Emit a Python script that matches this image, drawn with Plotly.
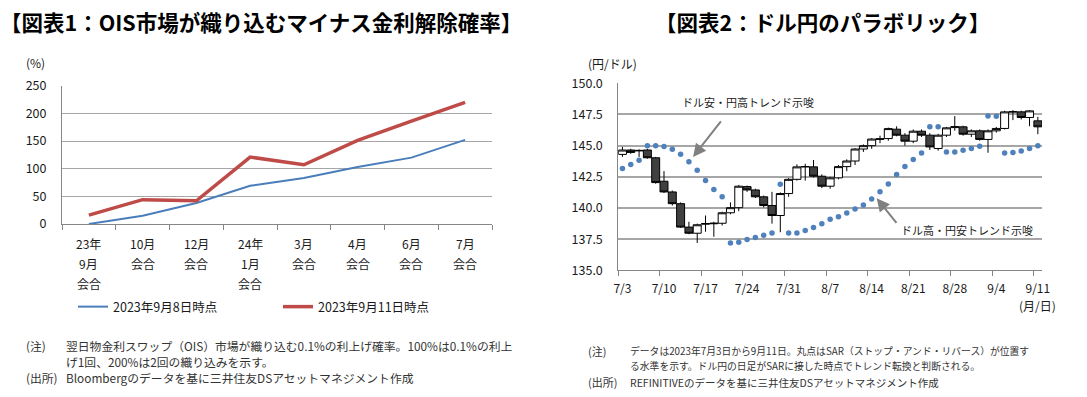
import plotly.graph_objects as go

W, H = 1087, 397
FONT = "Noto Sans CJK JP"

# ---------------- Left chart data ----------------
meeting_labels = [["23年", "9月", "会合"], ["10月", "会合"], ["12月", "会合"],
                  ["24年", "1月", "会合"], ["3月", "会合"], ["4月", "会合"],
                  ["6月", "会合"], ["7月", "会合"]]
prob_0908 = [0, 15, 38, 69, 83, 103, 120, 152]
prob_0911 = [16, 44, 42, 121, 107, 151, 186, 220]
left_yticks = [0, 50, 100, 150, 200, 250]

# ---------------- Right chart data ----------------
dates = ["7/3", "7/4", "7/5", "7/6", "7/7",
         "7/10", "7/11", "7/12", "7/13", "7/14",
         "7/17", "7/18", "7/19", "7/20", "7/21",
         "7/24", "7/25", "7/26", "7/27", "7/28",
         "7/31", "8/1", "8/2", "8/3", "8/4",
         "8/7", "8/8", "8/9", "8/10", "8/11",
         "8/14", "8/15", "8/16", "8/17", "8/18",
         "8/21", "8/22", "8/23", "8/24", "8/25",
         "8/28", "8/29", "8/30", "8/31", "9/1",
         "9/4", "9/5", "9/6", "9/7", "9/8",
         "9/11"]
open_ = [144.30, 144.65, 144.58, 144.65, 144.03,
         142.15, 141.29, 140.35, 138.47, 137.98,
         138.70, 138.74, 138.78, 139.62, 140.03,
         141.72, 141.45, 140.90, 140.20, 139.40,
         141.16, 142.30, 143.30, 143.30, 142.55,
         141.75, 142.42, 143.32, 143.77, 144.73,
         145.00, 145.50, 145.57, 146.32, 145.84,
         145.36, 146.16, 145.84, 144.77, 145.84,
         146.45, 146.51, 145.92, 146.19, 145.50,
         146.19, 146.38, 147.70, 147.71, 147.26,
         146.99]
high = [144.90, 144.75, 144.70, 144.75, 144.10,
        142.96, 141.40, 140.45, 138.90, 138.75,
        139.40, 138.90, 139.70, 140.45, 141.85,
        141.80, 141.55, 141.00, 141.30, 141.25,
        142.40, 143.50, 143.55, 143.85, 142.70,
        142.50, 143.45, 143.90, 144.80, 145.10,
        145.60, 145.80, 146.45, 146.55, 146.00,
        146.30, 146.30, 146.00, 145.95, 146.50,
        147.37, 146.60, 146.30, 146.30, 146.30,
        146.50, 147.80, 147.85, 147.80, 147.85,
        147.31]
low = [144.10, 144.35, 144.10, 143.95, 141.95,
       141.20, 140.20, 138.40, 137.90, 137.20,
       138.10, 137.70, 138.60, 139.50, 139.75,
       141.30, 140.80, 140.05, 138.75, 138.06,
       140.90, 142.20, 142.20, 142.45, 141.60,
       141.55, 142.30, 142.95, 143.45, 144.50,
       144.75, 145.20, 145.40, 145.75, 145.00,
       145.20, 145.70, 144.65, 144.60, 145.70,
       146.20, 145.80, 145.70, 145.40, 144.43,
       146.05, 146.30, 147.05, 147.10, 146.56,
       145.92]
close = [144.65, 144.46, 144.62, 144.03, 142.04,
         141.29, 140.35, 138.47, 137.98, 138.66,
         138.76, 138.78, 139.62, 140.03, 141.75,
         141.45, 140.90, 140.20, 139.40, 141.16,
         142.30, 143.30, 143.32, 142.55, 141.75,
         142.42, 143.32, 143.77, 144.73, 145.00,
         145.53, 145.55, 146.37, 145.84, 145.36,
         146.16, 145.84, 144.90, 145.84, 146.43,
         146.52, 145.92, 146.19, 145.50, 146.19,
         146.38, 147.71, 147.72, 147.26, 147.79,
         146.51]
sar = [143.16, 143.49, 143.83, 144.99, 144.99,
       144.93, 144.72, 144.32, 143.71, 143.03,
       142.20, 141.48, 140.90, 137.20, 137.25,
       137.47, 137.63, 137.81, 138.00, 141.90,
       138.00, 138.00, 138.20, 138.43, 138.75,
       139.10, 139.30, 139.60, 139.92, 140.25,
       140.72, 141.30, 141.92, 142.69, 143.33,
       143.90, 144.42, 146.52, 146.52, 144.49,
       144.49, 144.64, 144.77, 144.96, 147.37,
       147.35, 144.42, 144.45, 144.57, 144.77,
       144.99]
right_yticks = [135.0, 137.5, 140.0, 142.5, 145.0, 147.5, 150.0]
label_step = 5

# ---------------- helpers ----------------
def px_x(x):
    return x / W

def px_y(y):
    return 1 - y / H

BLUE = "#4A7EBB"
RED = "#BE4B48"
GRID = "#A6A6A6"
AXIS = "#868686"
TXT = "#1a1a1a"

fig = go.Figure()

xl = list(range(len(meeting_labels)))
fig.add_trace(go.Scatter(x=xl, y=prob_0908, mode="lines", name="2023年9月8日時点",
                         line=dict(color=BLUE, width=2), xaxis="x", yaxis="y",
                         legend="legend", hoverinfo="skip"))
fig.add_trace(go.Scatter(x=xl, y=prob_0911, mode="lines", name="2023年9月11日時点",
                         line=dict(color=RED, width=3.5), xaxis="x", yaxis="y",
                         legend="legend2", hoverinfo="skip"))

xr = list(range(len(dates)))
fig.add_trace(go.Candlestick(x=xr, open=open_, high=high, low=low, close=close,
                             xaxis="x2", yaxis="y2", showlegend=False,
                             increasing=dict(fillcolor="white", line=dict(color="black", width=1)),
                             decreasing=dict(fillcolor="#404040", line=dict(color="black", width=1)),
                             whiskerwidth=0, hoverinfo="skip"))
fig.add_trace(go.Scatter(x=xr, y=sar, mode="markers", showlegend=False,
                         marker=dict(color="#4F81BD", size=5.5), xaxis="x2", yaxis="y2",
                         hoverinfo="skip"))

annotations = []
# Left x labels (multi-line, 20px line spacing)
for i, lines in enumerate(meeting_labels):
    for j, t in enumerate(lines):
        annotations.append(dict(x=i, y=0, xref="x", yref="y", text=t, showarrow=False,
                                yshift=-(19 + 20 * j), xanchor="center", yanchor="middle",
                                font=dict(size=12, color=TXT, family=FONT)))

# Titles
annotations.append(dict(x=px_x(-2), y=px_y(22), xref="paper", yref="paper",
                        text="<b>【図表1：OIS市場が織り込むマイナス金利解除確率】</b>",
                        showarrow=False, xanchor="left", yanchor="middle",
                        font=dict(size=21.5, color="#000", family=FONT)))
annotations.append(dict(x=px_x(822), y=px_y(22), xref="paper", yref="paper",
                        text="<b>【図表2：ドル円のパラボリック】</b>",
                        showarrow=False, xanchor="center", yanchor="middle",
                        font=dict(size=21.5, color="#000", family=FONT)))
# Axis unit labels
annotations.append(dict(x=px_x(24), y=px_y(62), xref="paper", yref="paper", text="(%)",
                        showarrow=False, xanchor="left", yanchor="middle",
                        font=dict(size=12, color=TXT, family=FONT)))
annotations.append(dict(x=px_x(586), y=px_y(64), xref="paper", yref="paper", text="(円/ドル)",
                        showarrow=False, xanchor="left", yanchor="middle",
                        font=dict(size=12, color=TXT, family=FONT)))
annotations.append(dict(x=len(dates) - 1, y=px_y(305), xref="x2", yref="paper", text="(月/日)",
                        showarrow=False, xanchor="center", yanchor="middle",
                        font=dict(size=12, color=TXT, family=FONT)))

# Trend arrows and texts
annotations.append(dict(x=8.5, y=144.1, xref="x2", yref="y2", text="", showarrow=True,
                        ax=29, ay=-37, arrowhead=2, arrowsize=1.3, arrowwidth=2,
                        arrowcolor="#808080"))
annotations.append(dict(x=30.6, y=140.78, xref="x2", yref="y2", text="", showarrow=True,
                        ax=21, ay=26, arrowhead=2, arrowsize=1.3, arrowwidth=2,
                        arrowcolor="#808080"))
annotations.append(dict(x=px_x(748), y=px_y(102), xref="paper", yref="paper",
                        text="ドル安・円高トレンド示唆", showarrow=False,
                        xanchor="center", yanchor="middle",
                        font=dict(size=11, color=TXT, family=FONT)))
annotations.append(dict(x=px_x(967), y=px_y(230), xref="paper", yref="paper",
                        text="ドル高・円安トレンド示唆", showarrow=False,
                        xanchor="center", yanchor="middle",
                        font=dict(size=11, color=TXT, family=FONT)))

# Notes
NOTE = "#333333"
def note(x, y, t, size=11.8):
    annotations.append(dict(x=px_x(x), y=px_y(y), xref="paper", yref="paper", text=t,
                            showarrow=False, xanchor="left", yanchor="middle",
                            font=dict(size=size, color=NOTE, family=FONT)))

note(24, 345, "(注)")
note(64, 345, "翌日物金利スワップ（OIS）市場が織り込む0.1%の利上げ確率。100%は0.1%の利上")
note(64, 361, "げ1回、200%は2回の織り込みを示す。")
note(24, 377, "(出所)")
note(64, 377, "Bloombergのデータを基に三井住友DSアセットマネジメント作成")

note(586, 351, "(注)", 11)
note(628, 351, "データは2023年7月3日から9月11日。丸点はSAR（ストップ・アンド・リバース）が位置す", 9.8)
note(628, 366, "る水準を示す。ドル円の日足がSARに接した時点でトレンド転換と判断される。", 9.8)
note(586, 382, "(出所)", 11)
note(628, 382, "REFINITIVEのデータを基に三井住友DSアセットマネジメント作成", 10.5)

boundaries_left = [i - 0.5 for i in range(len(meeting_labels) + 1)]
boundaries_right = [i - 0.5 for i in range(0, len(dates), label_step)]

fig.update_layout(
    width=W, height=H, margin=dict(l=0, r=0, t=0, b=0, autoexpand=False),
    paper_bgcolor="white", plot_bgcolor="white",
    font=dict(family=FONT, size=12, color=TXT),
    boxgap=0.04, boxgroupgap=0,
    xaxis=dict(domain=[px_x(62), px_x(492)], range=[-0.5, len(meeting_labels) - 0.5],
               tickmode="array", tickvals=boundaries_left, showticklabels=False,
               ticks="outside", ticklen=5, tickcolor=AXIS, showgrid=False, zeroline=False,
               showline=True, linecolor=AXIS, linewidth=1, anchor="y", automargin=False),
    yaxis=dict(domain=[px_y(224), px_y(85.7)], range=[0, 250], tickmode="array",
               tickvals=left_yticks, showgrid=True, gridcolor=GRID, gridwidth=1,
               zeroline=False, showline=True, linecolor=AXIS, ticks="",
               ticklabelstandoff=12, tickfont=dict(size=12.5, color=TXT), anchor="x",
               automargin=False),
    xaxis2=dict(domain=[px_x(618.3), px_x(1042)], range=[-0.5, len(dates) - 0.5],
                tickmode="array", tickvals=xr[::label_step], ticktext=dates[::label_step],
                ticks="", showgrid=False, zeroline=False, showline=True, linecolor=AXIS,
                rangeslider=dict(visible=False), anchor="y2", ticklabelstandoff=7,
                tickfont=dict(size=12, color=TXT), automargin=False,
                minor=dict(tickmode="array", tickvals=boundaries_right, ticks="outside",
                           ticklen=5, tickcolor=AXIS, showgrid=False)),
    yaxis2=dict(domain=[px_y(270.4), px_y(83.3)], range=[135, 150], tickmode="array",
                tickvals=right_yticks, tickformat=".1f", showgrid=True, gridcolor=GRID,
                gridwidth=1.5, zeroline=False, showline=True, linecolor=AXIS, ticks="",
                ticklabelstandoff=12, tickfont=dict(size=12.5, color=TXT), anchor="x2",
                automargin=False),
    legend=dict(orientation="h", x=px_x(73), y=px_y(307), xanchor="left", yanchor="middle",
                font=dict(size=12.5, color=TXT, family=FONT), itemwidth=30,
                bgcolor="rgba(0,0,0,0)"),
    legend2=dict(orientation="h", x=px_x(278), y=px_y(307), xanchor="left", yanchor="middle",
                 font=dict(size=12.5, color=TXT, family=FONT), itemwidth=30,
                 bgcolor="rgba(0,0,0,0)"),
    annotations=annotations,
    showlegend=True,
    hovermode=False,
)

# the page's default 8px body margin would shift the whole figure; remove it
fig.write_html("out.html", config={"displayModeBar": False},
               post_script="document.body.style.margin='0px';")
